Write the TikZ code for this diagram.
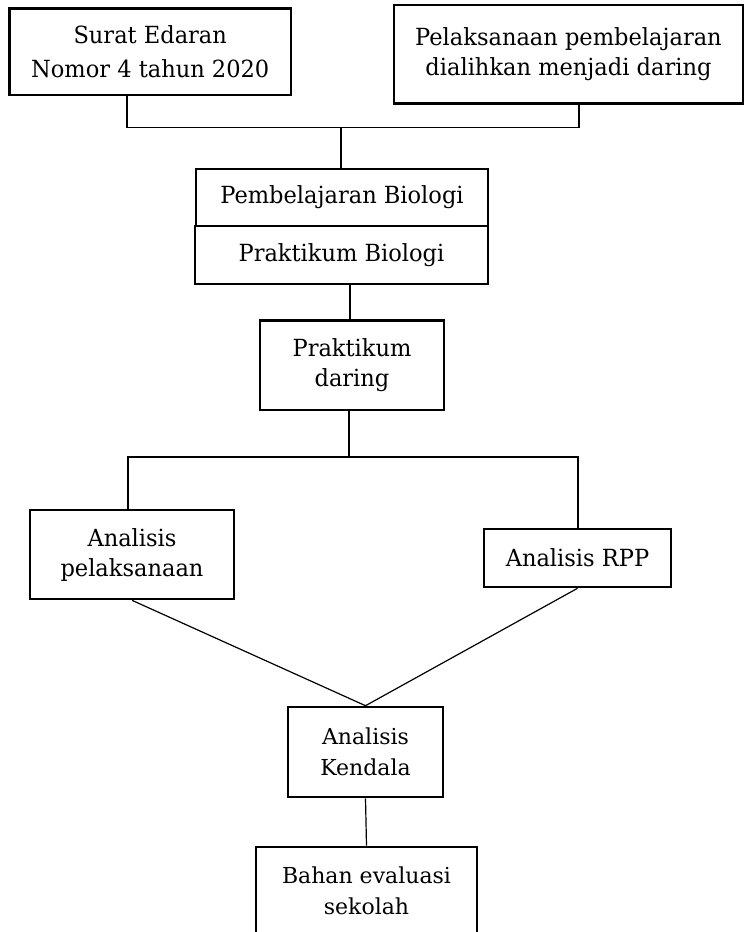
\documentclass[tikz,border=0pt]{standalone}
\usepackage{fontspec}
\setmainfont{DejaVu Serif}
\newfontfamily\topfont{DejaVu Serif}[FakeStretch=0.955]
\newfontfamily\botfont{DejaVu Serif}
\usetikzlibrary{calc}
\begin{document}
\begin{tikzpicture}[x=0.5pt,y=-0.5pt,
  box/.style={draw=black, line width=1.3pt, inner sep=0pt, align=center,
    font=\topfont\fontsize{11.8}{15}\selectfont},
  sbox/.style={box, line width=1.3pt, font=\botfont\fontsize{11}{15.5}\selectfont},
  conn/.style={draw=black, line width=0.6pt}]
\useasboundingbox (0,0) rectangle (745,932);
\clip (0,0) rectangle (745,932);

\node[box, minimum width=140.75pt, minimum height=43.35pt, font=\topfont\fontsize{11.8}{16.7}\selectfont] (s1) at (150.25,51.7) {Surat Edaran\\Nomor 4 tahun 2020};
\node[box, minimum width=174.5pt, minimum height=49.15pt] (s2) at (568.5,54.2) {Pelaksanaan pembelajaran\\dialihkan menjadi daring};
\node[box, minimum width=146pt, minimum height=28.5pt] (pb) at (342,197.5) {Pembelajaran Biologi};
\node[box, minimum width=146.5pt, minimum height=29pt] (pk) at (341.5,255) {Praktikum Biologi};
\node[box, minimum width=92pt, minimum height=44.65pt] (pd) at (352,365.35) {Praktikum\\daring};
\node[box, minimum width=102pt, minimum height=44.5pt] (ap) at (132,554.5) {Analisis\\pelaksanaan};
\node[box, minimum width=93.5pt, minimum height=29pt] (rpp) at (577.5,558) {Analisis RPP};
\node[sbox, minimum width=77.5pt, minimum height=45pt] (kd) at (365.5,752) {Analisis\\Kendala};
\node[sbox, minimum width=110.5pt, minimum height=44pt] (be) at (366.5,891) {Bahan evaluasi\\sekolah};

\coordinate (jl) at (127,127.5);
\coordinate (jm) at (341,127.5);
\coordinate (jr) at (579,127.5);
\coordinate (ka) at (350,300);
\coordinate (bl) at (128,457);
\coordinate (bm) at (349,457);
\coordinate (br) at (578,457);

\draw[conn] (s1.south -| jl) -- (jl) -- (jr) -- (s2.south -| jr);
\draw[conn] (jm) -- (pb.north -| jm);
\draw[conn] (pk.south -| ka) -- (pd.north -| ka);
\draw[conn] (pd.south -| bm) -- (bm);
\draw[conn] (ap.north -| bl) -- (bl) -- (br) -- (rpp.north -| br);
\draw[conn] (ap.south) -- (kd.north) -- (rpp.south);
\draw[conn] (kd.south) -- (be.north);
\end{tikzpicture}
\end{document}
